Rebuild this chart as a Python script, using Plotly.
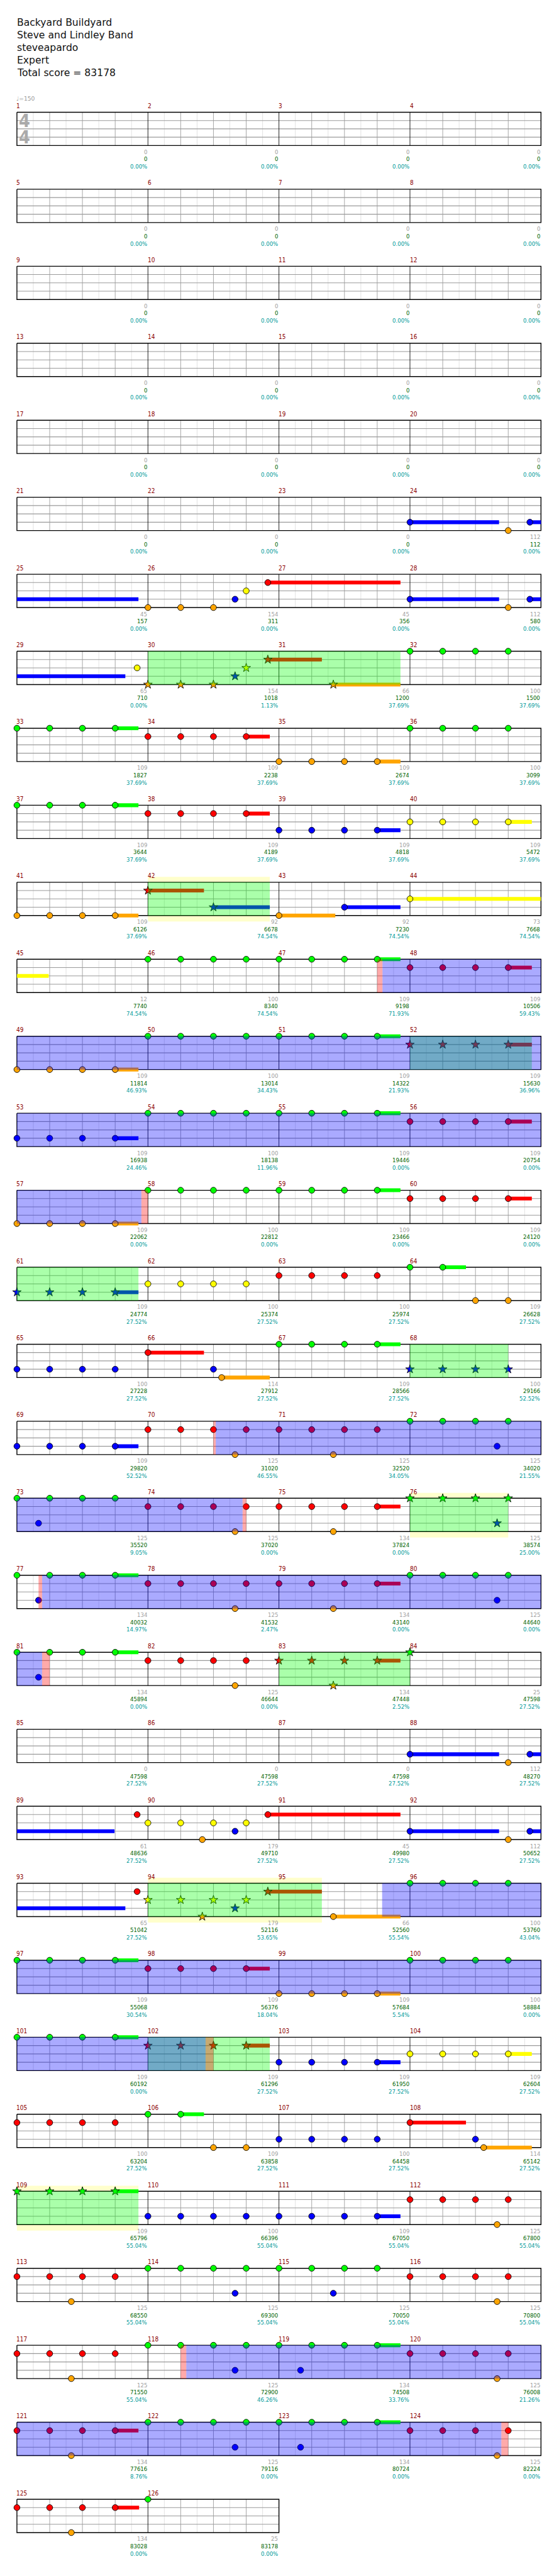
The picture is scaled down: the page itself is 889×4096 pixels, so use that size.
import re
import plotly.graph_objects as go

# ---------------------------------------------------------------- data
TITLE_LINES = ["Backyard Buildyard", "Steve and Lindley Band", "steveapardo", "Expert",
               "Total score = 83178"]
TEMPO_TEXT = "\u2669=150"
TIME_SIGNATURE = ["4", "4"]
N_MEASURES = 126

LANE_CODES = "GRYBO"
LANE_COLORS = ["#00FF00", "#FF0000", "#FFFF00", "#0000FF", "#FFA500"]

# notes per measure: "<beat><lane>[*=star][~sustain beats]"
MEASURE_NOTES = {
    24: "0B~2.72 3O 3.66B~4.05",
    26: "0O 1O 2O 2.66B 3Y 3.66R~4.05",
    28: "0B~2.72 3O 3.66B~3.65",
    29: "3.67Y",
    30: "0O* 1O* 2O* 2.66B* 3Y* 3.66R*~1.65",
    31: "1.66O*~2.05",
    32: "0G 1G 2G 3G",
    33: "0G 1G 2G 3G~0.71",
    34: "0R 1R 2R 3R~0.72",
    35: "0O 1O 2O 3O~0.71",
    36: "0G 1G 2G 3G",
    37: "0G 1G 2G 3G~0.71",
    38: "0R 1R 2R 3R~0.72",
    39: "0B 1B 2B 3B~0.71",
    40: "0Y 1Y 2Y 3Y~0.72",
    41: "0O 1O 2O 3O~0.71",
    42: "0R*~1.71 2B*~1.72",
    43: "0O~1.72 2B~1.71",
    44: "0Y~4.97",
    46: "0G 1G 2G 3G",
    47: "0G 1G 2G 3G~0.71",
    48: "0R 1R 2R 3R~0.72",
    49: "0O 1O 2O 3O~0.71",
    50: "0G 1G 2G 3G",
    51: "0G 1G 2G 3G~0.71",
    52: "0R* 1R* 2R* 3R*~0.72",
    53: "0B 1B 2B 3B~0.71",
    54: "0G 1G 2G 3G",
    55: "0G 1G 2G 3G~0.71",
    56: "0R 1R 2R 3R~0.72",
    57: "0O 1O 2O 3O~0.71",
    58: "0G 1G 2G 3G",
    59: "0G 1G 2G 3G~0.71",
    60: "0R 1R 2R 3R~0.72",
    61: "0B* 1B* 2B* 3B*~0.71",
    62: "0Y 1Y 2Y 3Y",
    63: "0R 1R 2R 3R",
    64: "0G 1G~0.71 2O 3O",
    65: "0B 1B 2B 3B",
    66: "0R~1.71 2B 2.25O~1.47",
    67: "0G 1G 2G 3G~0.71",
    68: "0B* 1B* 2B* 3B*",
    69: "0B 1B 2B 3B~0.71",
    70: "0R 1R 2R 2.66O 3R",
    71: "0R 1R 1.66O 2R 3R",
    72: "0G 1G 2G 2.66B 3G",
    73: "0G 0.66B 1G 2G 3G",
    74: "0R 1R 2R 2.66O 3R",
    75: "0R 1R 1.66O 2R 3R~0.71",
    76: "0G* 1G* 2G* 2.66B* 3G*",
    77: "0G 0.66B 1G 2G 3G~0.71",
    78: "0R 1R 2R 2.66O 3R",
    79: "0R 1R 1.66O 2R 3R~0.71",
    80: "0G 1G 2G 2.66B 3G",
    81: "0G 0.66B 1G 2G 3G~0.71",
    82: "0R 1R 2R 2.66O 3R",
    83: "0R* 1R* 1.66O* 2R* 3R*~0.71",
    84: "0G*",
    88: "0B~2.72 3O 3.66B~3.32",
    89: "3.67R",
    90: "0Y 1Y 1.66O 2Y 2.66B 3Y 3.66R~4.05",
    92: "0B~2.72 3O 3.66B~3.65",
    93: "3.67R",
    94: "0Y* 1Y* 1.66O* 2Y* 2.66B* 3Y* 3.66R*~1.65",
    95: "1.66O~2.05",
    96: "0G 1G 2G 3G",
    97: "0G 1G 2G 3G~0.71",
    98: "0R 1R 2R 3R~0.72",
    99: "0O 1O 2O 3O~0.71",
    100: "0G 1G 2G 3G",
    101: "0G 1G 2G 3G~0.71",
    102: "0R* 1R* 2R* 3R*~0.72",
    103: "0B 1B 2B 3B~0.71",
    104: "0Y 1Y 2Y 3Y~0.72",
    105: "0R 1R 2R 3R",
    106: "0G 1G~0.71 2O 3O",
    107: "0B 1B 2B 3B",
    108: "0R~1.71 2B 2.25O~1.47",
    109: "0G* 1G* 2G* 3G*~0.71",
    110: "0B 1B 2B 3B",
    111: "0B 1B 2B 3B~0.71",
    112: "0R 1R 2R 2.66O 3R",
    113: "0R 1R 1.66O 2R 3R",
    114: "0G 1G 2G 2.66B 3G",
    115: "0G 1G 1.66B 2G 3G",
    116: "0R 1R 2R 2.66O 3R",
    117: "0R 1R 1.66O 2R 3R",
    118: "0G 1G 2G 2.66B 3G",
    119: "0G 0.66B 1G 2G 3G~0.71",
    120: "0R 1R 2R 2.66O 3R",
    121: "0R 1R 1.66O 2R 3R~0.71",
    122: "0G 1G 2G 2.66B 3G",
    123: "0G 0.66B 1G 2G 3G~0.71",
    124: "0R 1R 2R 2.66O 3R",
    125: "0R 1R 1.66O 2R 3R~0.73",
    126: "0G",
}

MEASURE_SCORE = [
    0, 0, 0, 0, 0, 0, 0, 0, 0, 0, 0, 0, 0, 0, 0, 0, 0, 0, 0, 0,
    0, 0, 0, 112, 45, 154, 45, 112, 65, 154, 66, 100,
    109, 109, 109, 100, 109, 109, 109, 109, 109, 92, 92, 73,
    12, 100, 109, 109, 109, 100, 109, 109, 109, 100, 109, 109,
    109, 100, 109, 109, 109, 100, 100, 109, 100, 114, 109, 100,
    109, 125, 125, 125, 125, 125, 134, 125, 134, 125, 134, 125,
    134, 125, 134, 25, 0, 0, 0, 112, 61, 179, 45, 112,
    65, 179, 66, 100, 109, 109, 109, 100, 109, 109, 109, 109,
    100, 109, 100, 114, 109, 100, 109, 125, 125, 125, 125, 125,
    125, 125, 134, 125, 134, 125, 134, 125, 134, 25,
]

TOTAL_SCORE = [
    0, 0, 0, 0, 0, 0, 0, 0, 0, 0, 0, 0, 0, 0, 0, 0, 0, 0, 0, 0,
    0, 0, 0, 112, 157, 311, 356, 580, 710, 1018, 1200, 1500,
    1827, 2238, 2674, 3099, 3644, 4189, 4818, 5472, 6126, 6678, 7230, 7668,
    7740, 8340, 9198, 10506, 11814, 13014, 14322, 15630, 16938, 18138, 19446, 20754,
    22062, 22812, 23466, 24120, 24774, 25374, 25974, 26628, 27228, 27912, 28566, 29166,
    29820, 31020, 32520, 34020, 35520, 37020, 37824, 38574, 40032, 41532, 43140, 44640,
    45894, 46644, 47448, 47598, 47598, 47598, 47598, 48270, 48636, 49710, 49980, 50652,
    51042, 52116, 52560, 53760, 55068, 56376, 57684, 58884, 60192, 61296, 61950, 62604,
    63204, 63858, 64458, 65142, 65796, 66396, 67050, 67800, 68550, 69300, 70050, 70800,
    71550, 72900, 74508, 76008, 77616, 79116, 80724, 82224, 83028, 83178,
]

SP_PERCENT = [
    0.00, 0.00, 0.00, 0.00, 0.00, 0.00, 0.00, 0.00, 0.00, 0.00, 0.00, 0.00,
    0.00, 0.00, 0.00, 0.00, 0.00, 0.00, 0.00, 0.00, 0.00, 0.00, 0.00, 0.00,
    0.00, 0.00, 0.00, 0.00, 0.00, 1.13, 37.69, 37.69,
    37.69, 37.69, 37.69, 37.69, 37.69, 37.69, 37.69, 37.69, 37.69, 74.54, 74.54, 74.54,
    74.54, 74.54, 71.93, 59.43, 46.93, 34.43, 21.93, 36.96, 24.46, 11.96, 0.00, 0.00,
    0.00, 0.00, 0.00, 0.00, 27.52, 27.52, 27.52, 27.52, 27.52, 27.52, 27.52, 52.52,
    52.52, 46.55, 34.05, 21.55, 9.05, 0.00, 0.00, 25.00, 14.97, 2.47, 0.00, 0.00,
    0.00, 0.00, 2.52, 27.52, 27.52, 27.52, 27.52, 27.52, 27.52, 27.52, 27.52, 27.52,
    27.52, 53.65, 55.54, 43.04, 30.54, 18.04, 5.54, 0.00, 0.00, 27.52, 27.52, 27.52,
    27.52, 27.52, 27.52, 27.52, 55.04, 55.04, 55.04, 55.04, 55.04, 55.04, 55.04, 55.04,
    55.04, 46.26, 33.76, 21.26, 8.76, 0.00, 0.00, 0.00, 0.00, 0.00,
]

# regions as ((measure, beat), (measure, beat))
SP_PHRASES = [((30, 0), (31, 3.71)), ((42, 0), (42, 3.72)), ((52, 0), (52, 3.72)),
              ((61, 0), (61, 3.71)), ((68, 0), (68, 3.0)), ((76, 0), (76, 3.0)),
              ((83, 0), (84, 0)), ((94, 0), (95, 1.31)), ((102, 0), (102, 3.72)),
              ((109, 0), (109, 3.71))]
SP_HIGHLIGHTS = [((42, 0), (42, 3.72)), ((76, 0), (76, 3.0)), ((94, 0), (95, 1.31)),
                 ((109, 0), (109, 3.71))]
ACTIVATIONS = [((47, 3.16), (57, 3.8)), ((70, 2.07), (74, 2.89)), ((77, 0.77), (81, 0.77)),
               ((95, 3.15), (102, 1.76)), ((118, 1.17), (124, 2.79))]
ACTIVATION_EDGES = [((47, 3.0), (47, 3.16)), ((57, 3.8), (58, 0)), ((70, 2.0), (70, 2.07)),
                    ((74, 2.89), (74, 3.0)), ((77, 0.66), (77, 0.77)), ((81, 0.77), (81, 1.0)),
                    ((102, 1.76), (102, 2.0)), ((118, 1.0), (118, 1.17)),
                    ((124, 2.79), (124, 3.0))]

# ---------------------------------------------------------------- layout
S = 0.868
W_REF, H_REF = 1024, 4717
X0, BEAT_W = 31.0, 60.0
ROW_TOP0, ROW_PITCH = 205.5, 141.0
LANE_GAP = 15.25
STAFF_H = 4 * LANE_GAP
BEATS_PER_ROW = 16
N_ROWS = (N_MEASURES + 3) // 4
FONT = "DejaVu Sans"
NUM_FONT = "DejaVu Sans Condensed, DejaVu Sans"


def gbeat(mb):
    return (mb[0] - 1) * 4 + mb[1]


def row_top(r):
    return ROW_TOP0 + r * ROW_PITCH


def row_len(r):
    return min(BEATS_PER_ROW, (N_MEASURES - 4 * r) * 4)


def bx(b):
    return X0 + b * BEAT_W


def segments(g0, g1):
    out = []
    r = int(g0 // BEATS_PER_ROW)
    while g0 < g1 - 1e-9:
        e = min(g1, (r + 1) * BEATS_PER_ROW)
        out.append((r, g0 - r * BEATS_PER_ROW, e - r * BEATS_PER_ROW))
        g0 = e
        r += 1
    return out


TOKEN = re.compile(r"^([\d.]+)([GRYBO])(\*?)(?:~([\d.]+))?$")
notes = []
for m, s in MEASURE_NOTES.items():
    for tok in s.split():
        beat, lane, star, sus = TOKEN.match(tok).groups()
        notes.append((m, float(beat), LANE_CODES.index(lane), star == "*",
                      float(sus) if sus else 0.0))

fig = go.Figure()
shapes = []

# pale highlight + white staff background
for a, b in SP_HIGHLIGHTS:
    for r, s0, s1 in segments(gbeat(a), gbeat(b)):
        t = row_top(r)
        shapes.append(dict(type="rect", xref="x", yref="y", x0=bx(s0), x1=bx(s1),
                           y0=t - 10, y1=t + STAFF_H + 11, fillcolor="#FFFFCC",
                           line=dict(width=0), layer="below"))
for r in range(N_ROWS):
    t = row_top(r)
    shapes.append(dict(type="rect", xref="x", yref="y", x0=bx(0), x1=bx(row_len(r)),
                       y0=t, y1=t + STAFF_H, fillcolor="white", line=dict(width=0),
                       layer="below"))


def add_lines(xs, ys, color, width):
    fig.add_trace(go.Scatter(x=xs, y=ys, mode="lines", hoverinfo="skip",
                             line=dict(color=color, width=width)))


# grid
half_x, half_y, beat_x, beat_y, meas_x, meas_y, hor_x, hor_y, bor_x, bor_y = ([] for _ in range(10))
for r in range(N_ROWS):
    t = row_top(r)
    L = row_len(r)
    for k in range(L * 2):
        xb = k / 2.0
        if k % 2 == 1:
            half_x += [bx(xb), bx(xb), None]
            half_y += [t, t + STAFF_H, None]
        elif k % 8 != 0:
            beat_x += [bx(xb), bx(xb), None]
            beat_y += [t, t + STAFF_H, None]
        elif k != 0:
            meas_x += [bx(xb), bx(xb), None]
            meas_y += [t, t + STAFF_H, None]
    for lane in (1, 2, 3):
        hor_x += [bx(0), bx(L), None]
        hor_y += [t + lane * LANE_GAP, t + lane * LANE_GAP, None]
    bor_x += [bx(0), bx(L), bx(L), bx(0), bx(0), None]
    bor_y += [t, t, t + STAFF_H, t + STAFF_H, t, None]

add_lines(half_x, half_y, "#DDDDDD", 1.0 * S)
add_lines(beat_x, beat_y, "#9A9A9A", 1.0 * S)
add_lines(hor_x, hor_y, "#9A9A9A", 1.3 * S)
add_lines(meas_x, meas_y, "#000000", 1.0 * S)
add_lines(bor_x, bor_y, "#000000", 1.6 * S)

# sustains
for lane in range(5):
    sx, sy = [], []
    for m, b, ln, star, sus in notes:
        if ln != lane or sus <= 0:
            continue
        g = gbeat((m, b))
        for r, s0, s1 in segments(g, g + sus):
            y = row_top(r) + lane * LANE_GAP
            sx += [bx(s0), bx(s1), None]
            sy += [y, y, None]
    if sx:
        add_lines(sx, sy, LANE_COLORS[lane], 7.0 * S)

# notes
for lane in range(5):
    for star in (False, True):
        xs, ys = [], []
        for m, b, ln, st, sus in notes:
            if ln != lane or st != star:
                continue
            g = gbeat((m, b))
            r = int(g // BEATS_PER_ROW)
            xs.append(bx(g - r * BEATS_PER_ROW))
            ys.append(row_top(r) + lane * LANE_GAP)
        if xs:
            fig.add_trace(go.Scatter(
                x=xs, y=ys, mode="markers", hoverinfo="skip",
                marker=dict(symbol="star" if star else "circle",
                            size=(12 if star else 11) * S,
                            color=LANE_COLORS[lane],
                            line=dict(color="#000000", width=1.0 * S))))

# overlays (drawn above notes)
for regions, color in ((SP_PHRASES, "rgba(0,255,0,0.333)"),
                       (ACTIVATIONS, "rgba(0,0,255,0.333)"),
                       (ACTIVATION_EDGES, "rgba(255,0,0,0.333)")):
    for a, b in regions:
        for r, s0, s1 in segments(gbeat(a), gbeat(b)):
            t = row_top(r)
            shapes.append(dict(type="rect", xref="x", yref="y", x0=bx(s0), x1=bx(s1),
                               y0=t, y1=t + STAFF_H, fillcolor=color,
                               line=dict(width=0), layer="above"))

# texts
ann = []


def text(x, y, s, size, color, anchor="left", family=FONT, bold=False):
    ann.append(dict(x=x, y=y, xref="x", yref="y", text=("<b>%s</b>" % s) if bold else s,
                    showarrow=False, xanchor=anchor, yanchor="middle",
                    borderpad=0, borderwidth=0,
                    font=dict(family=family, size=size * S, color=color)))


for i, line in enumerate(TITLE_LINES):
    text(31, 42 + i * 23, line, 18, "#111111")
text(30, 181, TEMPO_TEXT, 10.5, "#9A9A9A")
text(44.5, row_top(0) + LANE_GAP, TIME_SIGNATURE[0], 33, "#AAAAAA", "center",
     NUM_FONT, True)
text(44.5, row_top(0) + 3 * LANE_GAP, TIME_SIGNATURE[1], 33, "#AAAAAA", "center",
     NUM_FONT, True)

for i in range(N_MEASURES):
    m = i + 1
    r = i // 4
    c = i % 4
    t = row_top(r)
    xs = bx(c * 4)
    xe = bx(c * 4 + 4) - 1.5
    bot = t + STAFF_H
    text(xs - 0.5, t - 11.5, str(m), 11.5, "#8B0000", "left", NUM_FONT)
    text(xe, bot + 11.5, str(MEASURE_SCORE[i]), 11, "#A0A0A0", "right", NUM_FONT)
    text(xe, bot + 24.7, str(TOTAL_SCORE[i]), 11, "#006400", "right", NUM_FONT)
    text(xe, bot + 38.2, "%.2f%%" % SP_PERCENT[i], 11, "#009A9A", "right", NUM_FONT)

fig.update_layout(
    width=889, height=4096, margin=dict(l=0, r=0, t=0, b=0),
    paper_bgcolor="white", plot_bgcolor="white", showlegend=False,
    xaxis=dict(range=[0, W_REF], visible=False, fixedrange=True),
    yaxis=dict(range=[H_REF, 0], visible=False, fixedrange=True),
    shapes=shapes, annotations=ann,
)

fig.write_html("out.html", config={"displayModeBar": False, "staticPlot": True},
               post_script="document.body.style.margin='0';"
                           "document.body.style.overflow='hidden';")
